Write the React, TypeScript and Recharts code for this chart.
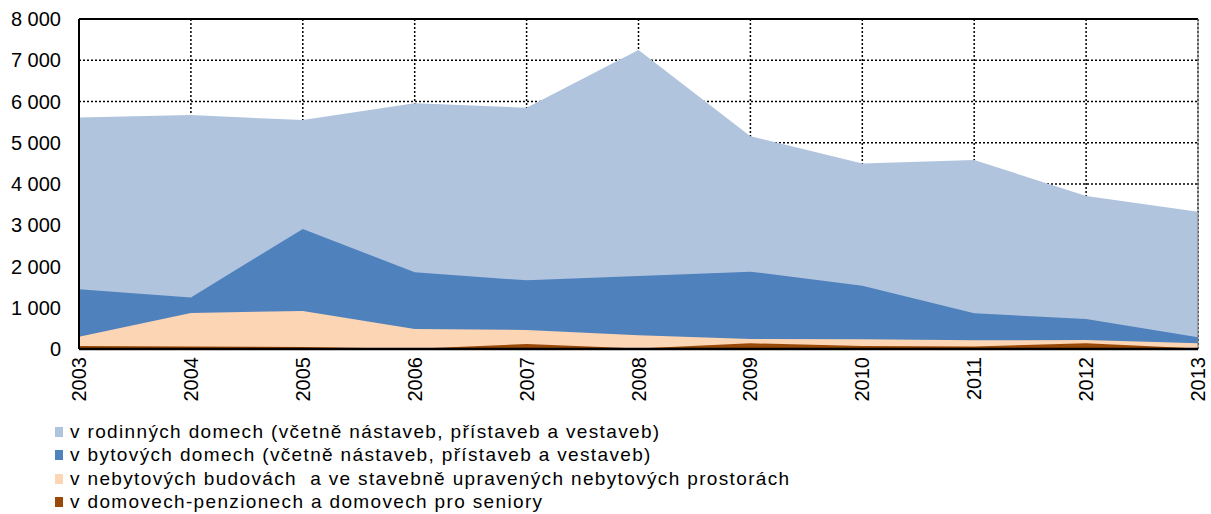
import React from 'react';
import { AreaChart, Area, XAxis, YAxis, CartesianGrid, Legend, ReferenceLine } from 'recharts';

const years = ['2003', '2004', '2005', '2006', '2007', '2008', '2009', '2010', '2011', '2012', '2013'];
const rodinne = [5610, 5670, 5550, 5960, 5850, 7250, 5160, 4500, 4580, 3710, 3330];
const bytove = [1450, 1250, 2910, 1860, 1665, 1770, 1875, 1535, 865, 727, 284];
const nebytove = [300, 873, 921, 485, 460, 331, 242, 234, 210, 218, 137];
const domovy = [75, 60, 50, 5, 120, 15, 137, 75, 60, 137, 10];
const yTicks = [0, 1000, 2000, 3000, 4000, 5000, 6000, 7000, 8000];

const seriesNames = [
  'v rodinných domech (včetně nástaveb, přístaveb a vestaveb)',
  'v bytových domech (včetně nástaveb, přístaveb a vestaveb)',
  'v nebytových budovách  a ve stavebně upravených nebytových prostorách',
  'v domovech-penzionech a domovech pro seniory',
];
const colors = ['#B0C4DE', '#4F81BD', '#FCD5B5', '#984807'];
const keys = ['rodinne', 'bytove', 'nebytove', 'domovy'];

const data = years.map((y, i) => ({
  year: y,
  rodinne: rodinne[i],
  bytove: bytove[i],
  nebytove: nebytove[i],
  domovy: domovy[i],
}));

const FONT = '"Liberation Sans", Arial, sans-serif';

const fmt = (v: number) => String(v).replace(/\B(?=(\d{3})+(?!\d))/g, ' ');

const XTick = (props: any) => {
  const { x, y, payload } = props;
  return (
    <text
      x={x}
      y={y}
      dy="0.35em"
      transform={`rotate(-90, ${x}, ${y})`}
      textAnchor="end"
      fontSize={20}
      fontFamily={FONT}
      fill="#000"
    >
      {payload.value}
    </text>
  );
};

const LegendContent = () => (
  <div style={{ fontFamily: FONT, fontSize: 19, color: '#000' }}>
    {seriesNames.map((n, i) => (
      <div key={n} style={{ display: 'flex', alignItems: 'center', height: 23.5, whiteSpace: 'pre' }}>
        <span style={{ display: 'inline-block', width: 8, height: 10, background: colors[i], marginRight: 7 }} />
        <span style={{ letterSpacing: '1.35px' }}>{n}</span>
      </div>
    ))}
  </div>
);

export default function App() {
  return (
    <div style={{ position: 'absolute', left: 0, top: 0, width: 1211, height: 514, background: '#fff' }}>
      <AreaChart width={1211} height={514} data={data} margin={{ top: 19, right: 13, left: 0, bottom: 0 }}>
        <CartesianGrid stroke="#000" strokeDasharray="2 2" strokeWidth={1.5} />
        {keys.map((k, i) => (
          <Area
            key={k}
            type="linear"
            dataKey={k}
            name={seriesNames[i]}
            fill={colors[i]}
            fillOpacity={1}
            stroke="none"
            isAnimationActive={false}
            dot={false}
            activeDot={false}
          />
        ))}
        <ReferenceLine y={8000} stroke="#000" strokeWidth={2} />
        <ReferenceLine x="2013" stroke="#777" strokeWidth={1} />
        <XAxis
          dataKey="year"
          height={165}
          axisLine={{ stroke: '#000', strokeWidth: 2.5 }}
          tickLine={false}
          tickSize={0}
          tickMargin={8}
          tick={<XTick />}
          interval={0}
        />
        <YAxis
          width={79}
          domain={[0, 8000]}
          ticks={yTicks}
          tickFormatter={fmt}
          axisLine={{ stroke: '#000', strokeWidth: 2 }}
          tickLine={false}
          tickSize={0}
          tickMargin={18}
          tick={{ fill: '#000', fontSize: 20, fontFamily: FONT }}
          interval={0}
        />
        <Legend
          layout="vertical"
          align="center"
          verticalAlign="middle"
          content={<LegendContent />}
          wrapperStyle={{ position: 'absolute', top: 420, left: 55, width: 900 }}
        />
      </AreaChart>
    </div>
  );
}
